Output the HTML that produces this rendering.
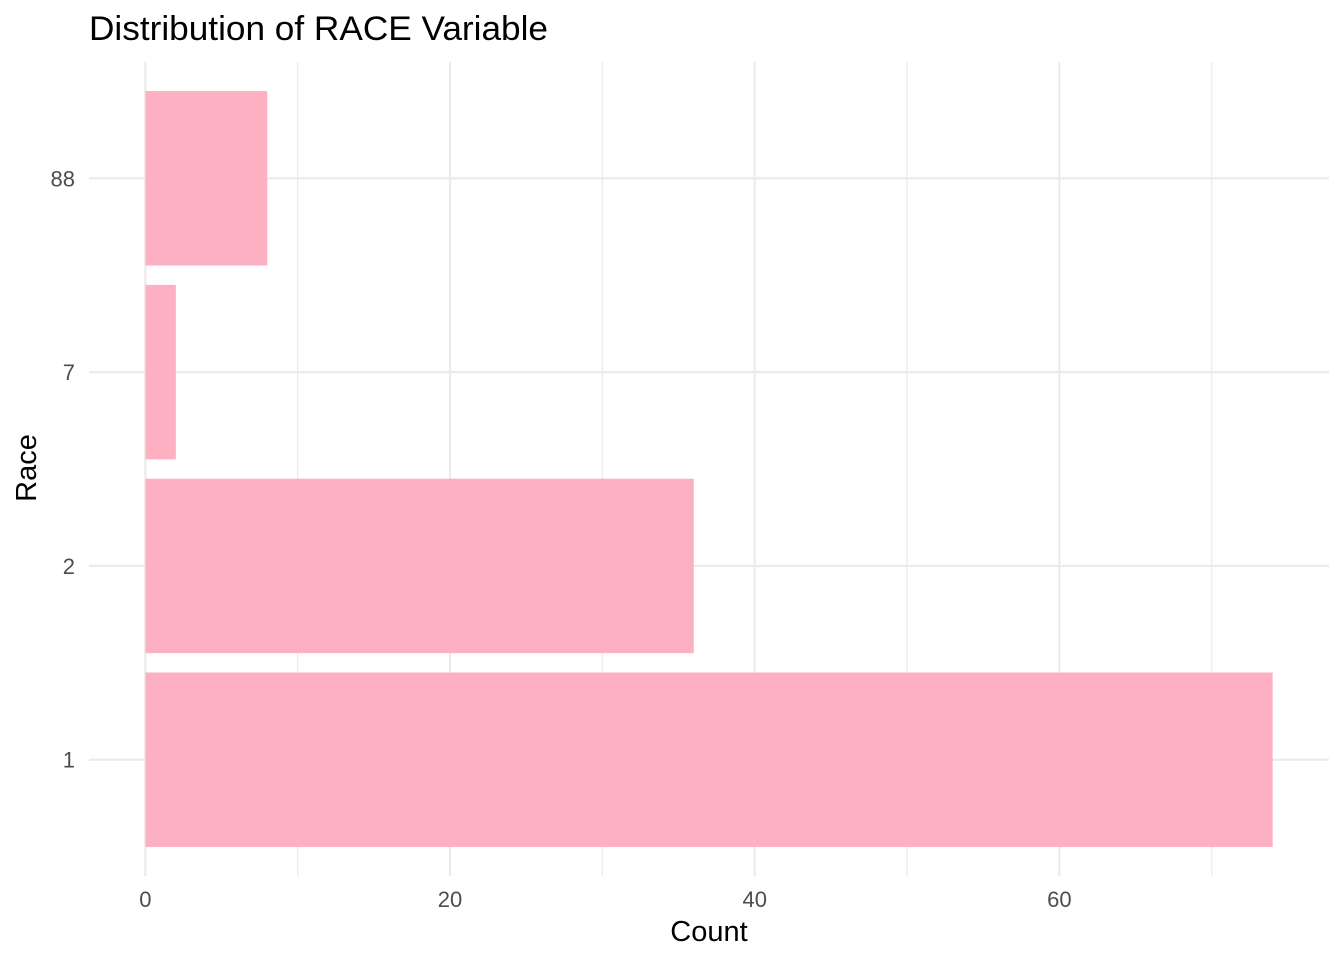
<!DOCTYPE html>
<html><head><meta charset="utf-8"><style>
body{margin:0;background:#fff}
svg{display:block;font-family:"Liberation Sans",Arial,sans-serif}
</style></head><body>
<svg id="chart" width="1344" height="960">
<rect width="1344" height="960" fill="#fff"/>
<text x="89" y="40" font-size="34" textLength="459" lengthAdjust="spacingAndGlyphs" fill="#000">Distribution of RACE Variable</text>
<g id="grid"></g>
<g id="bars"></g>
<g id="ticks"></g>
<text x="709" y="941" font-size="29" text-anchor="middle" fill="#000">Count</text>
<text transform="translate(36,468) rotate(-90)" font-size="29" text-anchor="middle" fill="#000">Race</text>
</svg>
<script>
const categories = ["1","2","7","88"];
const counts = [74, 36, 2, 8];
const xTicks = [0, 20, 40, 60];
const xMinor = [10, 30, 50, 70];

const panelL = 89, panelR = 1329, panelT = 62, panelB = 876;
const maxV = Math.max(...counts);
const xMin = -0.05 * maxV, xMax = maxV * 1.05;
const x = v => panelL + (v - xMin) / (xMax - xMin) * (panelR - panelL);
const n = categories.length;
const yMin = 0.4, yMax = n + 0.6;
const y = i => panelB - ((i + 1) - yMin) / (yMax - yMin) * (panelB - panelT);
const band = (panelB - panelT) / (yMax - yMin);
const NS = "http://www.w3.org/2000/svg";
const grid = document.getElementById('grid'), bars = document.getElementById('bars'), ticks = document.getElementById('ticks');
function mk(tag, attrs, parent){const e=document.createElementNS(NS,tag);for(const k in attrs)e.setAttribute(k,attrs[k]);parent.appendChild(e);return e;}

xMinor.forEach(v => {
  if (x(v) > panelR) return;
  const l = mk('line',{x1:x(v),x2:x(v),y1:panelT,y2:panelB,stroke:'#ebebeb','stroke-width':1.3},grid);
  
  
});
xTicks.forEach(v => {
  const l = mk('line',{x1:x(v),x2:x(v),y1:panelT,y2:panelB,stroke:'#ebebeb','stroke-width':2.2},grid);
  
  
  const t = mk('text',{x:x(v),y:907,'font-size':22,'text-anchor':'middle',fill:'#4d4d4d'},ticks);
  t.textContent = v;
  
  
});
categories.forEach((c, i) => {
  const l = mk('line',{x1:panelL,x2:panelR,y1:y(i),y2:y(i),stroke:'#ebebeb','stroke-width':2.2},grid);
  
  
  const t = mk('text',{x:75,y:y(i)+8,'font-size':22,'text-anchor':'end',fill:'#4d4d4d'},ticks);
  t.textContent = c;
  
  
  const h = band * 0.9;
  const b = mk('rect',{x:x(0),y:y(i)-h/2,width:x(counts[i])-x(0),height:h,fill:'#fdb0c1'},bars);
  
  
});
</script>
</body></html>
